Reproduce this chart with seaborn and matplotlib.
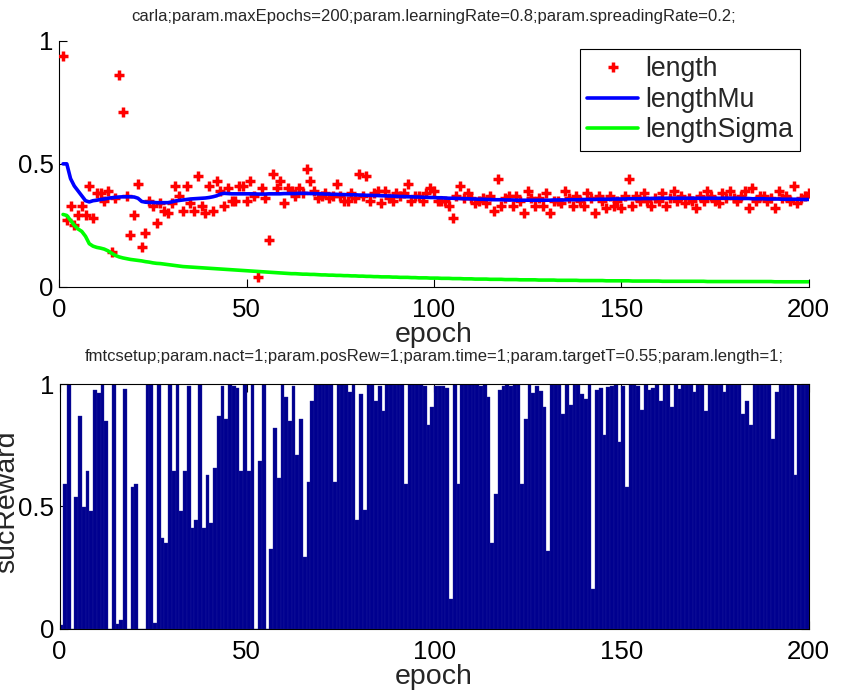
import numpy as np
import pandas as pd
import matplotlib
matplotlib.use("Agg")
import matplotlib.pyplot as plt
from matplotlib.lines import Line2D
import seaborn as sns

# ---------------- data ----------------
epochs = list(range(1, 201))

length = [
    0.94, 0.27, 0.33, 0.25, 0.29, 0.33, 0.29, 0.41, 0.28, 0.38,
    0.38, 0.35, 0.39, 0.14, 0.36, 0.86, 0.71, 0.37, 0.21, 0.29,
    0.42, 0.16, 0.22, 0.35, 0.33, 0.26, 0.34, 0.31, 0.30, 0.34,
    0.41, 0.37, 0.31, 0.41, 0.34, 0.31, 0.45, 0.33, 0.30, 0.41,
    0.31, 0.43, 0.39, 0.33, 0.40, 0.35, 0.35, 0.41, 0.41, 0.35,
    0.43, 0.37, 0.04, 0.40, 0.36, 0.19, 0.46, 0.40, 0.43, 0.34,
    0.40, 0.39, 0.37, 0.40, 0.38, 0.48, 0.43, 0.39, 0.36, 0.37,
    0.38, 0.36, 0.37, 0.42, 0.37, 0.35, 0.35, 0.38, 0.36, 0.46,
    0.37, 0.45, 0.35, 0.38, 0.39, 0.34, 0.39, 0.36, 0.35, 0.38,
    0.37, 0.38, 0.42, 0.35, 0.37, 0.37, 0.35, 0.38, 0.40, 0.39,
    0.35, 0.35, 0.35, 0.33, 0.28, 0.37, 0.41, 0.36, 0.38, 0.36,
    0.34, 0.35, 0.36, 0.34, 0.37, 0.31, 0.44, 0.33, 0.36, 0.37,
    0.33, 0.37, 0.35, 0.30, 0.39, 0.36, 0.33, 0.36, 0.33, 0.38,
    0.30, 0.35, 0.35, 0.34, 0.39, 0.36, 0.33, 0.37, 0.35, 0.33,
    0.38, 0.36, 0.30, 0.37, 0.35, 0.32, 0.37, 0.33, 0.35, 0.32,
    0.37, 0.44, 0.33, 0.37, 0.35, 0.38, 0.35, 0.33, 0.36, 0.35,
    0.38, 0.33, 0.36, 0.39, 0.35, 0.37, 0.34, 0.36, 0.35, 0.32,
    0.37, 0.35, 0.39, 0.37, 0.35, 0.34, 0.38, 0.36, 0.39, 0.36,
    0.35, 0.37, 0.39, 0.32, 0.40, 0.35, 0.37, 0.37, 0.35, 0.36,
    0.32, 0.39, 0.36, 0.37, 0.35, 0.41, 0.34, 0.36, 0.37, 0.38,
]

length_mu = [
    0.500, 0.500, 0.440, 0.410, 0.390, 0.370, 0.350, 0.345, 0.350, 0.352,
    0.355, 0.357, 0.360, 0.362, 0.364, 0.365, 0.366, 0.366, 0.366, 0.365,
    0.360, 0.347, 0.344, 0.343, 0.343, 0.342, 0.342, 0.342, 0.342, 0.345,
    0.349, 0.351, 0.353, 0.355, 0.357, 0.358, 0.359, 0.360, 0.361, 0.363,
    0.366, 0.370, 0.377, 0.380, 0.379, 0.378, 0.378, 0.378, 0.378, 0.378,
    0.378, 0.378, 0.377, 0.377, 0.377, 0.378, 0.378, 0.378, 0.378, 0.379,
    0.379, 0.379, 0.379, 0.380, 0.380, 0.380, 0.379, 0.379, 0.378, 0.378,
    0.377, 0.377, 0.376, 0.376, 0.375, 0.375, 0.374, 0.374, 0.374, 0.373,
    0.373, 0.372, 0.372, 0.371, 0.371, 0.370, 0.370, 0.369, 0.369, 0.368,
    0.367, 0.367, 0.366, 0.366, 0.365, 0.365, 0.364, 0.364, 0.363, 0.363,
    0.362, 0.362, 0.361, 0.360, 0.360, 0.359, 0.359, 0.358, 0.358, 0.357,
    0.357, 0.356, 0.356, 0.355, 0.355, 0.354, 0.354, 0.354, 0.353, 0.353,
    0.353, 0.352, 0.352, 0.352, 0.352, 0.352, 0.352, 0.352, 0.352, 0.352,
    0.352, 0.353, 0.353, 0.353, 0.353, 0.354, 0.354, 0.354, 0.354, 0.355,
    0.355, 0.355, 0.355, 0.356, 0.356, 0.356, 0.356, 0.357, 0.357, 0.357,
    0.357, 0.358, 0.358, 0.358, 0.358, 0.359, 0.359, 0.359, 0.359, 0.360,
    0.360, 0.360, 0.360, 0.360, 0.360, 0.360, 0.360, 0.360, 0.360, 0.360,
    0.360, 0.360, 0.360, 0.360, 0.360, 0.360, 0.360, 0.360, 0.360, 0.360,
    0.360, 0.359, 0.359, 0.359, 0.358, 0.358, 0.358, 0.358, 0.357, 0.357,
    0.357, 0.357, 0.356, 0.356, 0.356, 0.356, 0.356, 0.355, 0.355, 0.355,
]

length_sigma = [
    0.294, 0.290, 0.270, 0.250, 0.235, 0.225, 0.205, 0.175, 0.165, 0.160,
    0.157, 0.153, 0.146, 0.136, 0.127, 0.121, 0.117, 0.114, 0.111, 0.109,
    0.107, 0.105, 0.102, 0.100, 0.097, 0.095, 0.094, 0.092, 0.090, 0.088,
    0.086, 0.084, 0.082, 0.081, 0.080, 0.079, 0.078, 0.077, 0.076, 0.075,
    0.074, 0.073, 0.072, 0.071, 0.070, 0.069, 0.068, 0.067, 0.066, 0.065,
    0.064, 0.063, 0.062, 0.061, 0.060, 0.059, 0.058, 0.057, 0.056, 0.055,
    0.054, 0.053, 0.053, 0.052, 0.051, 0.051, 0.050, 0.050, 0.049, 0.048,
    0.048, 0.047, 0.047, 0.046, 0.046, 0.045, 0.045, 0.044, 0.044, 0.043,
    0.043, 0.042, 0.042, 0.041, 0.041, 0.040, 0.040, 0.040, 0.039, 0.039,
    0.038, 0.038, 0.038, 0.037, 0.037, 0.036, 0.036, 0.036, 0.035, 0.035,
    0.035, 0.034, 0.034, 0.034, 0.033, 0.033, 0.033, 0.032, 0.032, 0.032,
    0.031, 0.031, 0.031, 0.031, 0.030, 0.030, 0.030, 0.030, 0.029, 0.029,
    0.029, 0.029, 0.028, 0.028, 0.028, 0.028, 0.028, 0.027, 0.027, 0.027,
    0.027, 0.027, 0.026, 0.026, 0.026, 0.026, 0.026, 0.026, 0.025, 0.025,
    0.025, 0.025, 0.025, 0.025, 0.025, 0.024, 0.024, 0.024, 0.024, 0.024,
    0.024, 0.024, 0.023, 0.023, 0.023, 0.023, 0.023, 0.023, 0.023, 0.023,
    0.022, 0.022, 0.022, 0.022, 0.022, 0.022, 0.022, 0.022, 0.022, 0.022,
    0.022, 0.022, 0.021, 0.021, 0.021, 0.021, 0.021, 0.021, 0.021, 0.021,
    0.021, 0.021, 0.021, 0.021, 0.021, 0.021, 0.021, 0.021, 0.021, 0.021,
    0.020, 0.020, 0.020, 0.020, 0.020, 0.020, 0.020, 0.020, 0.020, 0.020,
]

suc_reward = [
    0.016, 0.591, 1.000, 0.000, 0.537, 0.868, 0.496, 0.643, 0.482, 0.977,
    0.963, 1.000, 0.847, 0.000, 1.000, 0.020, 0.035, 0.980, 0.000, 0.578,
    0.591, 0.000, 0.000, 1.000, 1.000, 0.023, 1.000, 0.370, 0.350, 1.000,
    0.643, 1.000, 0.482, 0.643, 0.990, 0.410, 0.445, 1.000, 0.410, 0.630,
    0.430, 0.657, 0.868, 0.990, 0.857, 1.000, 0.990, 0.985, 0.645, 1.000,
    0.646, 1.000, 0.000, 0.686, 1.000, 0.000, 0.326, 0.820, 0.617, 1.000,
    0.947, 0.847, 0.990, 0.710, 0.857, 0.295, 0.600, 0.930, 1.000, 1.000,
    1.000, 1.000, 1.000, 0.600, 1.000, 1.000, 0.995, 0.966, 1.000, 0.445,
    0.960, 0.484, 1.000, 0.997, 0.930, 0.990, 0.890, 1.000, 1.000, 0.995,
    1.000, 1.000, 0.590, 1.000, 1.000, 1.000, 1.000, 0.990, 0.834, 0.905,
    0.990, 0.990, 0.990, 0.985, 0.120, 1.000, 0.590, 1.000, 1.000, 1.000,
    1.000, 1.000, 0.990, 1.000, 0.947, 0.350, 0.550, 0.977, 0.990, 1.000,
    0.990, 1.000, 1.000, 0.590, 0.857, 0.995, 0.963, 0.990, 0.973, 0.906,
    0.316, 0.995, 0.995, 0.995, 0.879, 0.995, 0.915, 0.995, 0.995, 0.960,
    0.940, 1.000, 0.163, 0.977, 0.984, 0.790, 0.988, 0.990, 0.995, 0.763,
    0.990, 0.578, 0.995, 0.995, 0.990, 0.895, 0.995, 0.977, 0.984, 0.995,
    0.930, 0.995, 0.995, 0.905, 0.995, 0.980, 0.995, 0.995, 0.995, 0.966,
    0.995, 0.995, 0.888, 0.995, 0.995, 0.995, 0.995, 0.966, 0.995, 0.995,
    0.995, 0.995, 0.879, 0.930, 0.834, 0.995, 0.995, 0.995, 0.995, 0.995,
    0.775, 0.966, 0.995, 0.995, 0.995, 0.995, 0.630, 0.995, 0.995, 0.995,
]

x_ticks = [0, 50, 100, 150, 200]
x_tick_labels = ["0", "50", "100", "150", "200"]
y_ticks = [0, 0.5, 1]
y_tick_labels = ["0", "0.5", "1"]

title_top = "carla;param.maxEpochs=200;param.learningRate=0.8;param.spreadingRate=0.2;"
title_bottom = "fmtcsetup;param.nact=1;param.posRew=1;param.time=1;param.targetT=0.55;param.length=1;"
legend_labels = ["length", "lengthMu", "lengthSigma"]
x_label = "epoch"
y_label_bottom = "sucReward"

# ---------------- style ----------------
sns.set_theme(style="white")
plt.rcParams["font.family"] = ["Liberation Sans", "DejaVu Sans"]

TICK_FS = 18.6
LABEL_FS = 20.5
TITLE_FS = 12

fig = plt.figure(figsize=(8.46, 6.92), dpi=100)
W, H = 846, 692

def px_axes(left, top, right, bottom):
    return [left / W, 1 - bottom / H, (right - left) / W, (bottom - top) / H]

ax1 = fig.add_axes(px_axes(59.3, 41.0, 808.5, 286.7))
ax2 = fig.add_axes(px_axes(59.5, 384.0, 808.7, 628.7))

df = pd.DataFrame({
    "epoch": epochs,
    "length": length,
    "lengthMu": length_mu,
    "lengthSigma": length_sigma,
    "sucReward": suc_reward,
})

# ---------------- top panel ----------------
sns.scatterplot(data=df, x="epoch", y="length", marker="+", s=62,
                linewidth=2.5, color="#ff0000", ax=ax1, zorder=3, legend=False)
sns.lineplot(data=df, x="epoch", y="lengthMu", color="#0000ff", linewidth=2.6,
             ax=ax1, zorder=4, legend=False)
sns.lineplot(data=df, x="epoch", y="lengthSigma", color="#00ff00", linewidth=2.6,
             ax=ax1, zorder=4, legend=False)

ax1.set_xlim(0, 200)
ax1.set_ylim(0, 1)
ax1.set_xticks(x_ticks, labels=x_tick_labels)
ax1.set_yticks(y_ticks, labels=y_tick_labels)
ax1.set_ylabel("")
ax1.set_xlabel(x_label, fontsize=LABEL_FS, labelpad=0)
ax1.spines["top"].set_visible(False)
ax1.spines["right"].set_visible(False)
for s in ["left", "bottom"]:
    ax1.spines[s].set_color("black")
    ax1.spines[s].set_linewidth(0.8)
ax1.tick_params(axis="both", direction="in", length=6, width=0.8,
                labelsize=TICK_FS, colors="black", bottom=True, left=True)
ax1.tick_params(axis="x", pad=8)
ax1.tick_params(axis="y", pad=4)

handles = [
    Line2D([], [], marker="+", color="#ff0000", linestyle="none",
           markersize=7.5, markeredgewidth=2.5),
    Line2D([], [], color="#0000ff", linewidth=2.6),
    Line2D([], [], color="#00ff00", linewidth=2.6),
]
leg = ax1.legend(handles, legend_labels, loc="upper left",
                 bbox_to_anchor=(0.695, 0.968), fontsize=19.2, frameon=True,
                 fancybox=False, edgecolor="black", framealpha=1,
                 borderpad=0.28, labelspacing=0.17, handlelength=1.9,
                 handletextpad=0.25, borderaxespad=0)
leg.get_frame().set_linewidth(0.8)

fig.text(0.5 * (59.3 + 808.5) / W, 1 - 17 / H, title_top, ha="center",
         va="center", fontsize=TITLE_FS)

# ---------------- bottom panel ----------------
df["pos"] = df["epoch"] - 0.5
sns.barplot(data=df, x="pos", y="sucReward", native_scale=True, width=1,
            color="#00008f", saturation=1, edgecolor="#1e1e9e", linewidth=0.25,
            errorbar=None, ax=ax2)

ax2.set_xlim(0, 200)
ax2.set_ylim(0, 1)
ax2.set_xticks(x_ticks, labels=x_tick_labels)
ax2.set_yticks(y_ticks, labels=y_tick_labels)
ax2.set_xlabel(x_label, fontsize=LABEL_FS, labelpad=0)
ax2.set_ylabel(y_label_bottom, fontsize=LABEL_FS)
ax2.yaxis.set_label_coords(-0.052, 0.52)
for s in ["left", "bottom", "top", "right"]:
    ax2.spines[s].set_visible(True)
    ax2.spines[s].set_color("black")
    ax2.spines[s].set_linewidth(0.8)
ax2.tick_params(axis="both", direction="in", length=6, width=0.8,
                labelsize=TICK_FS, colors="black", bottom=True, left=True,
                top=True, right=True, labeltop=False, labelright=False)
ax2.tick_params(axis="x", pad=8)
ax2.tick_params(axis="y", pad=4)

fig.text(0.5 * (59.5 + 808.7) / W, 1 - 356 / H, title_bottom, ha="center",
         va="center", fontsize=TITLE_FS)

fig.savefig("out.png", dpi=100)
